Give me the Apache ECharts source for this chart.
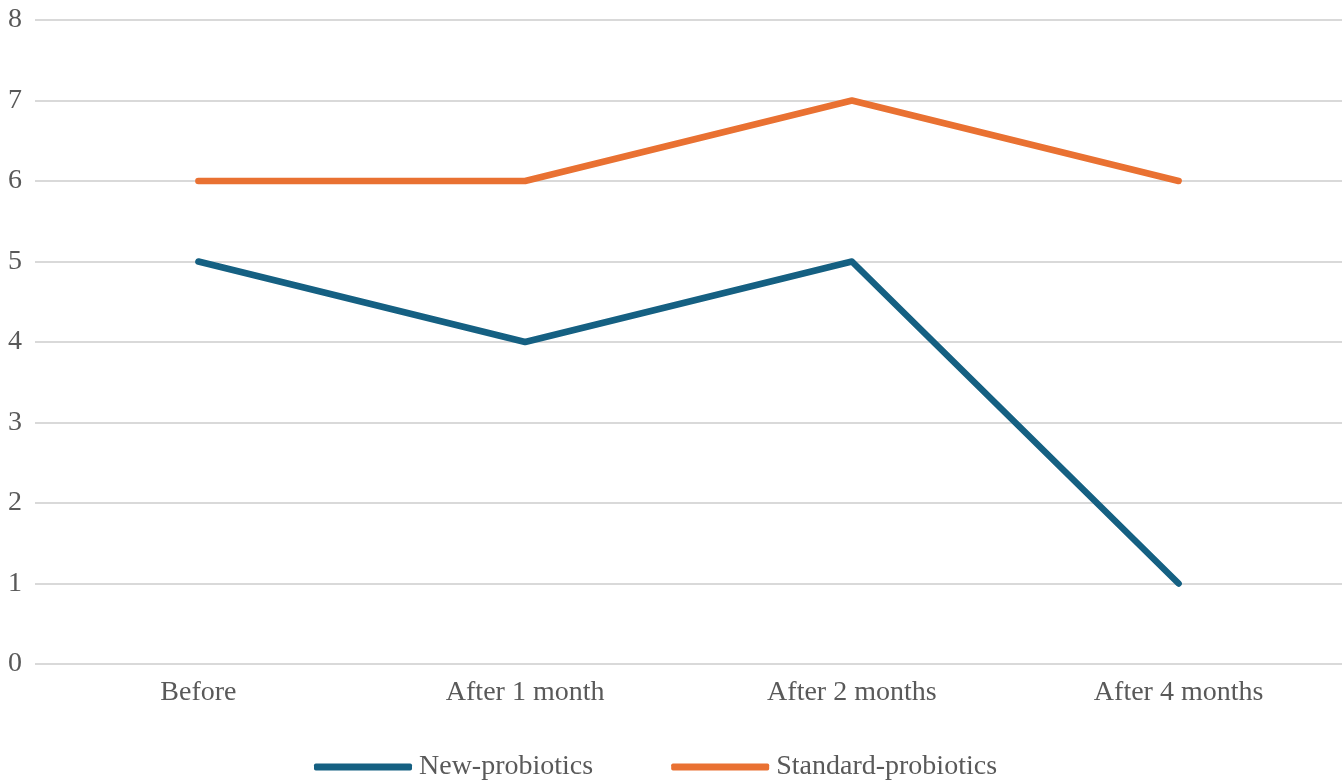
<!DOCTYPE html>
<html>
<head>
<meta charset="utf-8">
<script src="https://cdn.jsdelivr.net/npm/echarts@6/dist/echarts.min.js"></script>
<style>html,body{margin:0;padding:0;background:#fff}#c{width:1342px;height:782px}</style>
</head>
<body>
<div id="c"></div>
<script>
const categories = ['Before', 'After 1 month', 'After 2 months', 'After 4 months'];
const newProbiotics = [5, 4, 5, 1];
const standardProbiotics = [6, 6, 7, 6];
const yTicks = { min: 0, max: 8, interval: 1 };

const font = 'Liberation Serif';
const chart = echarts.init(document.getElementById('c'), null, { renderer: 'canvas' });
chart.setOption({
  animation: false,
  grid: { left: 35, right: 0, top: 20, bottom: 118, containLabel: false },
  legend: {
    top: 748,
    left: 309,
    itemWidth: 98,
    itemHeight: 7,
    itemGap: 78,
    icon: 'roundRect',
    textStyle: { fontFamily: font, fontSize: 28, color: '#595959', padding: [0, 0, 0, 2] },
    data: ['New-probiotics', 'Standard-probiotics']
  },
  xAxis: {
    type: 'category',
    data: categories,
    boundaryGap: true,
    axisLine: { show: false },
    axisTick: { show: false },
    axisLabel: { fontFamily: font, fontSize: 28, color: '#595959', margin: 15 }
  },
  yAxis: {
    type: 'value',
    min: yTicks.min, max: yTicks.max, interval: yTicks.interval,
    axisLine: { show: false },
    axisTick: { show: false },
    axisLabel: { fontFamily: font, fontSize: 28, color: '#595959', margin: 13 },
    splitLine: { lineStyle: { color: '#d9d9d9', width: 2 } }
  },
  series: [
    {
      name: 'New-probiotics', type: 'line', data: newProbiotics,
      symbol: 'none', color: '#156082',
      lineStyle: { width: 6.5, cap: 'round', join: 'round', color: '#156082' }
    },
    {
      name: 'Standard-probiotics', type: 'line', data: standardProbiotics,
      symbol: 'none', color: '#E97132',
      lineStyle: { width: 6.5, cap: 'round', join: 'round', color: '#E97132' }
    }
  ]
});
</script>
</body>
</html>
